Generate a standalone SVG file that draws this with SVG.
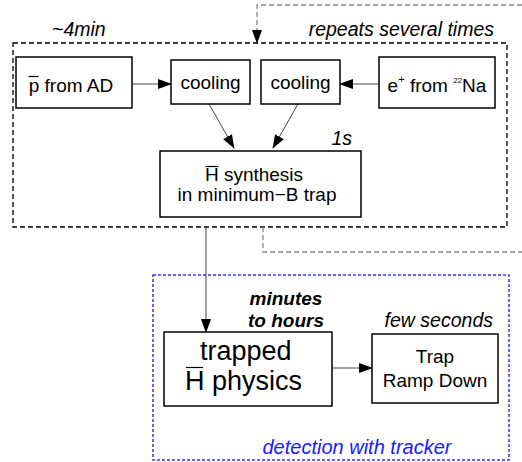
<svg xmlns="http://www.w3.org/2000/svg" width="522" height="462" viewBox="0 0 522 462">
<defs>
<marker id="ah" markerWidth="14" markerHeight="10" refX="13" refY="5" orient="auto" markerUnits="userSpaceOnUse">
<path d="M0,0 L14,5 L0,10 z" fill="#000"/>
</marker>
<style>
text{font-family:"Liberation Sans",Arial,sans-serif;fill:#000}
.box{fill:#fff;stroke:#000;stroke-width:1.5}
.t{font-size:19px;text-anchor:middle}
.it{font-style:italic;font-size:19.5px}
.con{stroke:#444;stroke-width:1;fill:none}
.bar{stroke:#000;stroke-width:1.2}
</style>
</defs>
<rect width="522" height="462" fill="#fff"/>
<g id="frame-repeat">
<rect x="13" y="43" width="494" height="184" fill="none" stroke="#000" stroke-width="1.3" stroke-dasharray="5,3"/>
<text class="it" x="52" y="36">~4min</text>
<text class="it" x="494" y="36" text-anchor="end">repeats several times</text>
</g>
<g id="frame-detect">
<rect x="153" y="275" width="356" height="185" fill="none" stroke="#3333ee" stroke-width="1.5" stroke-dasharray="3,2"/>
<text class="it" x="357" y="454" text-anchor="middle" style="fill:#1a1aff;font-size:20px">detection with tracker</text>
</g>
<g id="connectors">
<path class="con" d="M263,227 V252 H522" style="stroke:#888;stroke-dasharray:5,3;stroke-width:1.3"/>
<path class="con" d="M522,5 H257 V43" style="stroke:#888;stroke-dasharray:5,3;stroke-width:1.3" marker-end="url(#ah)"/>
<line class="con" x1="132" y1="84" x2="171" y2="84" marker-end="url(#ah)"/>
<line class="con" x1="379" y1="84" x2="340" y2="84" marker-end="url(#ah)"/>
<line class="con" x1="209" y1="104" x2="234" y2="148" marker-end="url(#ah)"/>
<line class="con" x1="298" y1="104" x2="273" y2="148" marker-end="url(#ah)"/>
<line class="con" x1="206" y1="228" x2="206" y2="332" marker-end="url(#ah)"/>
<line class="con" x1="332" y1="368" x2="372" y2="368" marker-end="url(#ah)"/>
</g>
<g id="pbar">
<rect class="box" x="16" y="57" width="116" height="51"/>
<text class="t" x="71" y="92">p from AD</text>
<line class="bar" x1="28.5" y1="76.5" x2="38.5" y2="76.5"/>
</g>
<g id="cooling1">
<rect class="box" x="171" y="60" width="79" height="44"/>
<text class="t" x="210.5" y="89">cooling</text>
</g>
<g id="cooling2">
<rect class="box" x="261" y="60" width="79" height="44"/>
<text class="t" x="300.5" y="89">cooling</text>
</g>
<g id="positrons">
<rect class="box" x="379" y="57" width="116" height="51"/>
<text class="t" x="437" y="92">e<tspan dy="-9" style="font-size:11px">+</tspan><tspan dy="9"> from </tspan><tspan dy="-9" style="font-size:8px">22</tspan><tspan dy="9">Na</tspan></text>
</g>
<g id="synthesis">
<rect class="box" x="160" y="151" width="201" height="66"/>
<text class="it" x="352" y="145" text-anchor="end">1s</text>
<text class="t" x="254" y="181">H synthesis</text>
<line class="bar" x1="205.5" y1="166.5" x2="218.5" y2="166.5"/>
<text class="t" x="257" y="201">in minimum−B trap</text>
</g>
<g id="trapped">
<rect class="box" x="164" y="332" width="168" height="74"/>
<text x="286" y="305" style="font-size:19px;font-weight:bold;font-style:italic" text-anchor="middle">minutes</text>
<text x="286" y="327" style="font-size:19px;font-weight:bold;font-style:italic" text-anchor="middle">to hours</text>
<text x="200" y="360" style="font-size:27px">trapped</text>
<text x="185" y="390" style="font-size:27px">H physics</text>
<line class="bar" x1="186" y1="367.5" x2="203" y2="367.5"/>
</g>
<g id="rampdown">
<rect class="box" x="372" y="334" width="126" height="69"/>
<text class="it" x="493" y="327" text-anchor="end">few seconds</text>
<text class="t" x="435" y="363">Trap</text>
<text class="t" x="435" y="387">Ramp Down</text>
</g>
</svg>
